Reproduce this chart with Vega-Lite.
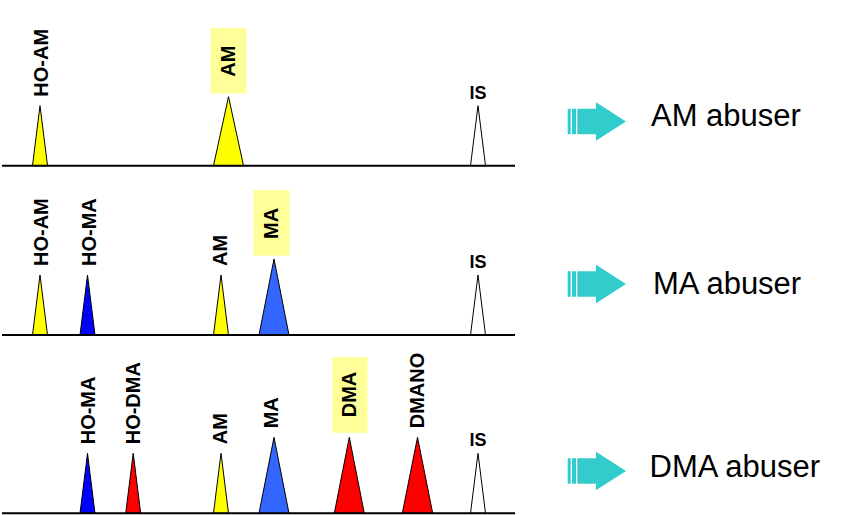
{
  "$schema": "https://vega.github.io/schema/vega-lite/v6.json",
  "padding": 0,
  "spacing": 0,
  "background": "white",
  "config": {"view": {"stroke": null}, "font": "Liberation Sans"},
  "resolve": {"scale": {"x": "independent", "y": "independent"}},
  "datasets": {
    "peaks": [
      {"row":1,"peak":"HO-AM","t":32.5,"h":0},{"row":1,"peak":"HO-AM","t":40,"h":60},{"row":1,"peak":"HO-AM","t":47.5,"h":0},
      {"row":1,"peak":"AM","t":213.5,"h":0},{"row":1,"peak":"AM","t":228.5,"h":69},{"row":1,"peak":"AM","t":243.5,"h":0},
      {"row":1,"peak":"IS","t":470.5,"h":0},{"row":1,"peak":"IS","t":478,"h":60},{"row":1,"peak":"IS","t":485.5,"h":0},
      {"row":2,"peak":"HO-AM","t":32.5,"h":0},{"row":2,"peak":"HO-AM","t":40,"h":60},{"row":2,"peak":"HO-AM","t":47.5,"h":0},
      {"row":2,"peak":"HO-MA","t":80,"h":0},{"row":2,"peak":"HO-MA","t":87.5,"h":60},{"row":2,"peak":"HO-MA","t":95,"h":0},
      {"row":2,"peak":"AM","t":213.5,"h":0},{"row":2,"peak":"AM","t":221,"h":60},{"row":2,"peak":"AM","t":228.5,"h":0},
      {"row":2,"peak":"MA","t":259,"h":0},{"row":2,"peak":"MA","t":274,"h":76},{"row":2,"peak":"MA","t":289,"h":0},
      {"row":2,"peak":"IS","t":470.5,"h":0},{"row":2,"peak":"IS","t":478,"h":60},{"row":2,"peak":"IS","t":485.5,"h":0},
      {"row":3,"peak":"HO-MA","t":80,"h":0},{"row":3,"peak":"HO-MA","t":87.5,"h":60},{"row":3,"peak":"HO-MA","t":95,"h":0},
      {"row":3,"peak":"HO-DMA","t":125.7,"h":0},{"row":3,"peak":"HO-DMA","t":133.2,"h":60},{"row":3,"peak":"HO-DMA","t":140.7,"h":0},
      {"row":3,"peak":"AM","t":213.5,"h":0},{"row":3,"peak":"AM","t":221,"h":60},{"row":3,"peak":"AM","t":228.5,"h":0},
      {"row":3,"peak":"MA","t":259,"h":0},{"row":3,"peak":"MA","t":274,"h":76},{"row":3,"peak":"MA","t":289,"h":0},
      {"row":3,"peak":"DMA","t":334.3,"h":0},{"row":3,"peak":"DMA","t":349.3,"h":76},{"row":3,"peak":"DMA","t":364.3,"h":0},
      {"row":3,"peak":"DMANO","t":402.3,"h":0},{"row":3,"peak":"DMANO","t":417.5,"h":76},{"row":3,"peak":"DMANO","t":432.7,"h":0},
      {"row":3,"peak":"IS","t":470.5,"h":0},{"row":3,"peak":"IS","t":478,"h":60},{"row":3,"peak":"IS","t":485.5,"h":0}
    ],
    "labels": [
      {"row":1,"label":"HO-AM","t":41.5,"h":60,"hl":false},
      {"row":1,"label":"AM","t":228.5,"h":69,"hl":true},
      {"row":1,"label":"IS","t":478,"h":60,"hl":false},
      {"row":2,"label":"HO-AM","t":41.5,"h":60,"hl":false},
      {"row":2,"label":"HO-MA","t":89.5,"h":60,"hl":false},
      {"row":2,"label":"AM","t":220.5,"h":60,"hl":false},
      {"row":2,"label":"MA","t":271.5,"h":76,"hl":true},
      {"row":2,"label":"IS","t":478,"h":60,"hl":false},
      {"row":3,"label":"HO-MA","t":88.5,"h":60,"hl":false},
      {"row":3,"label":"HO-DMA","t":133.5,"h":60,"hl":false},
      {"row":3,"label":"AM","t":220.5,"h":60,"hl":false},
      {"row":3,"label":"MA","t":272,"h":76,"hl":false},
      {"row":3,"label":"DMA","t":350,"h":76,"hl":true},
      {"row":3,"label":"DMANO","t":417.5,"h":76,"hl":false},
      {"row":3,"label":"IS","t":478,"h":60,"hl":false}
    ],
    "arrows": [
      {"row":1,"t":596.85,"level":44.2},
      {"row":2,"t":596.85,"level":51},
      {"row":3,"t":596.85,"level":42.3}
    ],
    "notes": [
      {"row":1,"note":"AM abuser","t":651,"level":39.7},
      {"row":2,"note":"MA abuser","t":653,"level":40.7},
      {"row":3,"note":"DMA abuser","t":649.5,"level":36.6}
    ]
  },
  "vconcat": [
    {
      "width": 850, "height": 168,
      "layer": [
        {"data":{"name":"peaks"},"transform":[{"filter":"datum.row == 1"}],
         "mark":{"type":"area","stroke":"#000000","strokeWidth":1,"opacity":1,"interpolate":"linear"},
         "encoding":{
           "x":{"field":"t","type":"quantitative","scale":{"domain":[0,850],"nice":false,"zero":false},"axis":null},
           "y":{"field":"h","type":"quantitative","scale":{"domain":[-2.3,165.7],"nice":false,"zero":false},"axis":null,"stack":null},
           "y2":{"datum":0},
           "color":{"field":"peak","type":"nominal","scale":{"domain":["HO-AM","AM","HO-MA","MA","HO-DMA","DMA","DMANO","IS"],"range":["#FFFF00","#FFFF00","#0000FF","#3366FF","#FF0000","#FF0000","#FF0000","#FFFFFF"]},"legend":null}
         }},
        {"data":{"values":[{}]},"mark":{"type":"rule","color":"#000000","strokeWidth":2},
         "encoding":{"x":{"datum":2,"type":"quantitative"},"x2":{"datum":515},"y":{"datum":0,"type":"quantitative"}}},
        {"data":{"name":"labels"},"transform":[{"filter":"datum.row == 1 && datum.hl"}],
         "mark":{"type":"point","filled":true,"color":"#FFFF99","opacity":1,"size":6400,"strokeWidth":0},
         "encoding":{"x":{"field":"t","type":"quantitative"},"y":{"field":"h","type":"quantitative"},
           "shape":{"field":"label","type":"nominal","scale":{"domain":["AM","MA","DMA"],"range":["M-0.45,-0.08L0.45,-0.08L0.45,-1.72L-0.45,-1.72Z","M-0.45,-0.08L0.45,-0.08L0.45,-1.72L-0.45,-1.72Z","M-0.44,-0.115L0.44,-0.115L0.44,-2.01L-0.44,-2.01Z"]},"legend":null}}},
        {"data":{"name":"labels"},"transform":[{"filter":"datum.row == 1 && !datum.hl && datum.label != 'IS'"}],
         "mark":{"type":"text","angle":270,"align":"left","baseline":"middle","dx":9,"fontSize":20,"fontWeight":"bold","color":"#000000"},
         "encoding":{"x":{"field":"t","type":"quantitative"},"y":{"field":"h","type":"quantitative"},"text":{"field":"label"}}},
        {"data":{"name":"labels"},"transform":[{"filter":"datum.row == 1 && datum.hl"}],
         "mark":{"type":"text","angle":270,"align":"left","baseline":"middle","dx":20,"fontSize":20,"fontWeight":"bold","color":"#000000"},
         "encoding":{"x":{"field":"t","type":"quantitative"},"y":{"field":"h","type":"quantitative"},"text":{"field":"label"}}},
        {"data":{"name":"labels"},"transform":[{"filter":"datum.row == 1 && datum.label == 'IS'"}],
         "mark":{"type":"text","align":"center","baseline":"alphabetic","dy":-7,"fontSize":18,"fontWeight":"bold","color":"#000000"},
         "encoding":{"x":{"field":"t","type":"quantitative"},"y":{"field":"h","type":"quantitative"},"text":{"field":"label"}}},
        {"data":{"name":"arrows"},"transform":[{"filter":"datum.row == 1"}],
         "mark":{"type":"point","filled":true,"color":"#33CCCC","opacity":1,"size":3400,"strokeWidth":0,
           "shape":"M-1,-0.434L-0.897,-0.434L-0.897,0.434L-1,0.434Z M-0.852,-0.434L-0.715,-0.434L-0.715,0.434L-0.852,0.434Z M-0.67,-0.434L-0.03,-0.434L-0.03,-0.659L1,0L-0.03,0.659L-0.03,0.434L-0.67,0.434Z"},
         "encoding":{"x":{"field":"t","type":"quantitative"},"y":{"field":"level","type":"quantitative"}}},
        {"data":{"name":"notes"},"transform":[{"filter":"datum.row == 1"}],
         "mark":{"type":"text","align":"left","baseline":"alphabetic","fontSize":31,"color":"#000000"},
         "encoding":{"x":{"field":"t","type":"quantitative"},"y":{"field":"level","type":"quantitative"},"text":{"field":"note"}}}
      ]
    },
    {
      "width": 850, "height": 169,
      "layer": [
        {"data":{"name":"peaks"},"transform":[{"filter":"datum.row == 2"}],
         "mark":{"type":"area","stroke":"#000000","strokeWidth":1,"opacity":1,"interpolate":"linear"},
         "encoding":{
           "x":{"field":"t","type":"quantitative","scale":{"domain":[0,850],"nice":false,"zero":false},"axis":null},
           "y":{"field":"h","type":"quantitative","scale":{"domain":[-2,167],"nice":false,"zero":false},"axis":null,"stack":null},
           "y2":{"datum":0},
           "color":{"field":"peak","type":"nominal","scale":{"domain":["HO-AM","AM","HO-MA","MA","HO-DMA","DMA","DMANO","IS"],"range":["#FFFF00","#FFFF00","#0000FF","#3366FF","#FF0000","#FF0000","#FF0000","#FFFFFF"]},"legend":null}
         }},
        {"data":{"values":[{}]},"mark":{"type":"rule","color":"#000000","strokeWidth":2},
         "encoding":{"x":{"datum":2,"type":"quantitative"},"x2":{"datum":515},"y":{"datum":0,"type":"quantitative"}}},
        {"data":{"name":"labels"},"transform":[{"filter":"datum.row == 2 && datum.hl"}],
         "mark":{"type":"point","filled":true,"color":"#FFFF99","opacity":1,"size":6400,"strokeWidth":0},
         "encoding":{"x":{"field":"t","type":"quantitative"},"y":{"field":"h","type":"quantitative"},
           "shape":{"field":"label","type":"nominal","scale":{"domain":["AM","MA","DMA"],"range":["M-0.45,-0.08L0.45,-0.08L0.45,-1.72L-0.45,-1.72Z","M-0.45,-0.08L0.45,-0.08L0.45,-1.72L-0.45,-1.72Z","M-0.44,-0.115L0.44,-0.115L0.44,-2.01L-0.44,-2.01Z"]},"legend":null}}},
        {"data":{"name":"labels"},"transform":[{"filter":"datum.row == 2 && !datum.hl && datum.label != 'IS'"}],
         "mark":{"type":"text","angle":270,"align":"left","baseline":"middle","dx":9,"fontSize":20,"fontWeight":"bold","color":"#000000"},
         "encoding":{"x":{"field":"t","type":"quantitative"},"y":{"field":"h","type":"quantitative"},"text":{"field":"label"}}},
        {"data":{"name":"labels"},"transform":[{"filter":"datum.row == 2 && datum.hl"}],
         "mark":{"type":"text","angle":270,"align":"left","baseline":"middle","dx":20,"fontSize":20,"fontWeight":"bold","color":"#000000"},
         "encoding":{"x":{"field":"t","type":"quantitative"},"y":{"field":"h","type":"quantitative"},"text":{"field":"label"}}},
        {"data":{"name":"labels"},"transform":[{"filter":"datum.row == 2 && datum.label == 'IS'"}],
         "mark":{"type":"text","align":"center","baseline":"alphabetic","dy":-7,"fontSize":18,"fontWeight":"bold","color":"#000000"},
         "encoding":{"x":{"field":"t","type":"quantitative"},"y":{"field":"h","type":"quantitative"},"text":{"field":"label"}}},
        {"data":{"name":"arrows"},"transform":[{"filter":"datum.row == 2"}],
         "mark":{"type":"point","filled":true,"color":"#33CCCC","opacity":1,"size":3400,"strokeWidth":0,
           "shape":"M-1,-0.434L-0.897,-0.434L-0.897,0.434L-1,0.434Z M-0.852,-0.434L-0.715,-0.434L-0.715,0.434L-0.852,0.434Z M-0.67,-0.434L-0.03,-0.434L-0.03,-0.659L1,0L-0.03,0.659L-0.03,0.434L-0.67,0.434Z"},
         "encoding":{"x":{"field":"t","type":"quantitative"},"y":{"field":"level","type":"quantitative"}}},
        {"data":{"name":"notes"},"transform":[{"filter":"datum.row == 2"}],
         "mark":{"type":"text","align":"left","baseline":"alphabetic","fontSize":31,"color":"#000000"},
         "encoding":{"x":{"field":"t","type":"quantitative"},"y":{"field":"level","type":"quantitative"},"text":{"field":"note"}}}
      ]
    },
    {
      "width": 850, "height": 178,
      "layer": [
        {"data":{"name":"peaks"},"transform":[{"filter":"datum.row == 3"}],
         "mark":{"type":"area","stroke":"#000000","strokeWidth":1,"opacity":1,"interpolate":"linear"},
         "encoding":{
           "x":{"field":"t","type":"quantitative","scale":{"domain":[0,850],"nice":false,"zero":false},"axis":null},
           "y":{"field":"h","type":"quantitative","scale":{"domain":[-1.7,176.3],"nice":false,"zero":false},"axis":null,"stack":null},
           "y2":{"datum":0},
           "color":{"field":"peak","type":"nominal","scale":{"domain":["HO-AM","AM","HO-MA","MA","HO-DMA","DMA","DMANO","IS"],"range":["#FFFF00","#FFFF00","#0000FF","#3366FF","#FF0000","#FF0000","#FF0000","#FFFFFF"]},"legend":null}
         }},
        {"data":{"values":[{}]},"mark":{"type":"rule","color":"#000000","strokeWidth":2},
         "encoding":{"x":{"datum":2,"type":"quantitative"},"x2":{"datum":515},"y":{"datum":0,"type":"quantitative"}}},
        {"data":{"name":"labels"},"transform":[{"filter":"datum.row == 3 && datum.hl"}],
         "mark":{"type":"point","filled":true,"color":"#FFFF99","opacity":1,"size":6400,"strokeWidth":0},
         "encoding":{"x":{"field":"t","type":"quantitative"},"y":{"field":"h","type":"quantitative"},
           "shape":{"field":"label","type":"nominal","scale":{"domain":["AM","MA","DMA"],"range":["M-0.45,-0.08L0.45,-0.08L0.45,-1.72L-0.45,-1.72Z","M-0.45,-0.08L0.45,-0.08L0.45,-1.72L-0.45,-1.72Z","M-0.44,-0.115L0.44,-0.115L0.44,-2.01L-0.44,-2.01Z"]},"legend":null}}},
        {"data":{"name":"labels"},"transform":[{"filter":"datum.row == 3 && !datum.hl && datum.label != 'IS'"}],
         "mark":{"type":"text","angle":270,"align":"left","baseline":"middle","dx":9,"fontSize":20,"fontWeight":"bold","color":"#000000"},
         "encoding":{"x":{"field":"t","type":"quantitative"},"y":{"field":"h","type":"quantitative"},"text":{"field":"label"}}},
        {"data":{"name":"labels"},"transform":[{"filter":"datum.row == 3 && datum.hl"}],
         "mark":{"type":"text","angle":270,"align":"left","baseline":"middle","dx":20,"fontSize":20,"fontWeight":"bold","color":"#000000"},
         "encoding":{"x":{"field":"t","type":"quantitative"},"y":{"field":"h","type":"quantitative"},"text":{"field":"label"}}},
        {"data":{"name":"labels"},"transform":[{"filter":"datum.row == 3 && datum.label == 'IS'"}],
         "mark":{"type":"text","align":"center","baseline":"alphabetic","dy":-7,"fontSize":18,"fontWeight":"bold","color":"#000000"},
         "encoding":{"x":{"field":"t","type":"quantitative"},"y":{"field":"h","type":"quantitative"},"text":{"field":"label"}}},
        {"data":{"name":"arrows"},"transform":[{"filter":"datum.row == 3"}],
         "mark":{"type":"point","filled":true,"color":"#33CCCC","opacity":1,"size":3400,"strokeWidth":0,
           "shape":"M-1,-0.434L-0.897,-0.434L-0.897,0.434L-1,0.434Z M-0.852,-0.434L-0.715,-0.434L-0.715,0.434L-0.852,0.434Z M-0.67,-0.434L-0.03,-0.434L-0.03,-0.659L1,0L-0.03,0.659L-0.03,0.434L-0.67,0.434Z"},
         "encoding":{"x":{"field":"t","type":"quantitative"},"y":{"field":"level","type":"quantitative"}}},
        {"data":{"name":"notes"},"transform":[{"filter":"datum.row == 3"}],
         "mark":{"type":"text","align":"left","baseline":"alphabetic","fontSize":31,"color":"#000000"},
         "encoding":{"x":{"field":"t","type":"quantitative"},"y":{"field":"level","type":"quantitative"},"text":{"field":"note"}}}
      ]
    }
  ]
}
